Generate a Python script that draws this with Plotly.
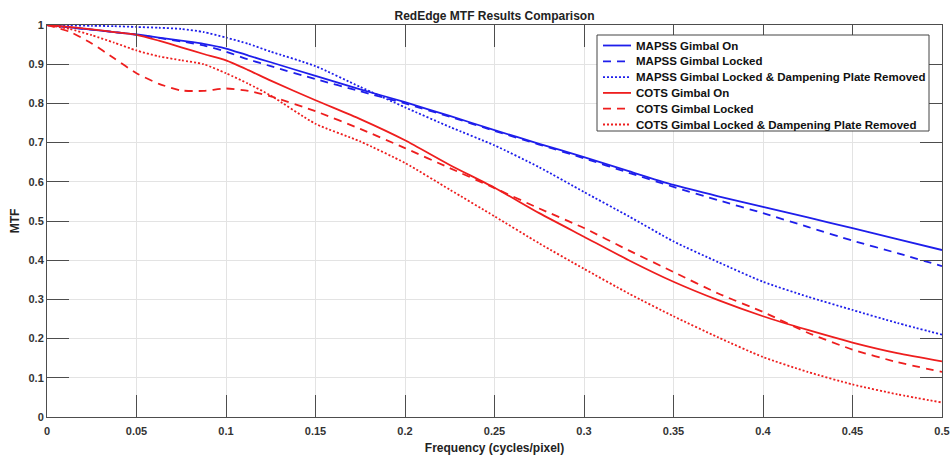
import plotly.graph_objects as go

freq = [0, 0.0125, 0.025, 0.0375, 0.05, 0.0625, 0.075, 0.0875, 0.1, 0.1125, 0.125,
        0.15, 0.175, 0.2, 0.225, 0.25, 0.275, 0.3, 0.325, 0.35, 0.375, 0.4, 0.425,
        0.45, 0.475, 0.5]

mapss_on = [1.0, 0.994, 0.988, 0.982, 0.976, 0.968, 0.960, 0.952, 0.940, 0.922, 0.905,
            0.870, 0.836, 0.803, 0.768, 0.732, 0.697, 0.663, 0.627, 0.592, 0.563, 0.536,
            0.509, 0.482, 0.454, 0.426]
mapss_locked = [1.0, 0.994, 0.988, 0.982, 0.975, 0.967, 0.958, 0.948, 0.932, 0.912, 0.895,
                0.862, 0.831, 0.800, 0.766, 0.730, 0.695, 0.660, 0.623, 0.587, 0.553, 0.520,
                0.485, 0.450, 0.418, 0.385]
mapss_removed = [1.0, 0.999, 0.998, 0.997, 0.995, 0.993, 0.990, 0.982, 0.968, 0.952, 0.932,
                 0.895, 0.842, 0.790, 0.740, 0.693, 0.637, 0.574, 0.512, 0.448, 0.395, 0.345,
                 0.307, 0.273, 0.240, 0.210]
cots_on = [1.0, 0.995, 0.989, 0.982, 0.975, 0.960, 0.943, 0.926, 0.910, 0.885, 0.858,
           0.808, 0.760, 0.706, 0.643, 0.585, 0.520, 0.460, 0.400, 0.345, 0.298, 0.257,
           0.222, 0.190, 0.163, 0.142]
cots_locked = [1.0, 0.983, 0.953, 0.915, 0.877, 0.850, 0.833, 0.832, 0.838, 0.832, 0.818,
               0.780, 0.735, 0.686, 0.635, 0.584, 0.532, 0.482, 0.425, 0.370, 0.315, 0.268,
               0.215, 0.172, 0.140, 0.115]
cots_removed = [1.0, 0.990, 0.974, 0.955, 0.935, 0.920, 0.910, 0.900, 0.877, 0.850, 0.820,
                0.748, 0.703, 0.648, 0.580, 0.512, 0.443, 0.378, 0.315, 0.257, 0.203, 0.153,
                0.115, 0.083, 0.058, 0.037]

series_names = ["MAPSS Gimbal On", "MAPSS Gimbal Locked",
                "MAPSS Gimbal Locked & Dampening Plate Removed",
                "COTS Gimbal On", "COTS Gimbal Locked",
                "COTS Gimbal Locked & Dampening Plate Removed"]
series_values = [mapss_on, mapss_locked, mapss_removed, cots_on, cots_locked, cots_removed]

x_ticks = [0, 0.05, 0.1, 0.15, 0.2, 0.25, 0.3, 0.35, 0.4, 0.45, 0.5]
x_tick_labels = ["0", "0.05", "0.1", "0.15", "0.2", "0.25", "0.3", "0.35", "0.4", "0.45", "0.5"]
y_ticks = [0, 0.1, 0.2, 0.3, 0.4, 0.5, 0.6, 0.7, 0.8, 0.9, 1.0]
y_tick_labels = ["0", "0.1", "0.2", "0.3", "0.4", "0.5", "0.6", "0.7", "0.8", "0.9", "1"]

BLUE = "rgb(30,30,235)"
RED = "rgb(238,30,30)"
styles = [(BLUE, "solid"), (BLUE, "8px,6px"), (BLUE, "2px,2px"),
          (RED, "solid"), (RED, "8px,6px"), (RED, "2px,2px")]

FONT = "Liberation Sans, Arial, sans-serif"

fig = go.Figure()
for name, vals, (col, dash) in zip(series_names, series_values, styles):
    fig.add_trace(go.Scatter(
        x=freq, y=vals, mode="lines", name=name, showlegend=False,
        line=dict(color=col, dash=dash, width=1.8, shape="spline", smoothing=0.6),
    ))

# Legend drawn in plot-area (paper) coordinates, MATLAB style compact box
PW, PH = 895.0, 392.0  # plot area size in px
box_x0, box_x1 = 550 / PW, 882 / PW
box_y1, box_y0 = 1 - 10 / PH, 1 - 106 / PH
fig.add_shape(type="rect", xref="paper", yref="paper", x0=box_x0, x1=box_x1,
              y0=box_y0, y1=box_y1, line=dict(color="#444444", width=1),
              fillcolor="white", layer="above")
for i, (name, (col, dash)) in enumerate(zip(series_names, styles)):
    yc = 1 - (20.5 + 15.8 * i) / PH
    fig.add_shape(type="line", xref="paper", yref="paper", x0=556 / PW, x1=584 / PW,
                  y0=yc, y1=yc, line=dict(color=col, dash=dash, width=1.8), layer="above")
    fig.add_annotation(text=name, xref="paper", yref="paper", x=587 / PW, y=yc,
                       xanchor="left", yanchor="middle", showarrow=False,
                       font=dict(family=FONT, size=11.5, color="#111111", weight="bold"))

axis_common = dict(
    showline=True, linecolor="#4d4d4d", linewidth=1, mirror="ticks",
    ticks="inside", ticklen=22, tickcolor="#4d4d4d", tickwidth=1,
    showgrid=True, gridcolor="#e3e3e3", gridwidth=1, zeroline=False, automargin=False,
    tickfont=dict(family=FONT, size=11, color="#333333", weight="bold"),
)

fig.update_layout(
    width=950, height=457,
    margin=dict(l=47, r=8, t=25, b=40),
    paper_bgcolor="white", plot_bgcolor="white",
    title=dict(text="RedEdge MTF Results Comparison", x=0.5, xref="paper",
               y=1 - 16 / 457, yref="container", yanchor="middle", xanchor="center",
               font=dict(family=FONT, size=12, color="#222222", weight="bold")),
    xaxis=dict(range=[0, 0.5], tickvals=x_ticks, ticktext=x_tick_labels,
               ticklabeloverflow="allow", ticklabelstandoff=4,
               title=dict(text="Frequency (cycles/pixel)", standoff=7,
                          font=dict(family=FONT, size=12, color="#222222", weight="bold")),
               **axis_common),
    yaxis=dict(range=[0, 1], tickvals=y_ticks, ticktext=y_tick_labels,
               title=dict(text="MTF", standoff=6,
                          font=dict(family=FONT, size=12, color="#222222", weight="bold")),
               **axis_common),
    showlegend=False,
)

fig.write_html(
    "out.html",
    config={"displayModeBar": False},
    post_script="document.body.style.margin='0';document.body.style.overflow='hidden';",
)
